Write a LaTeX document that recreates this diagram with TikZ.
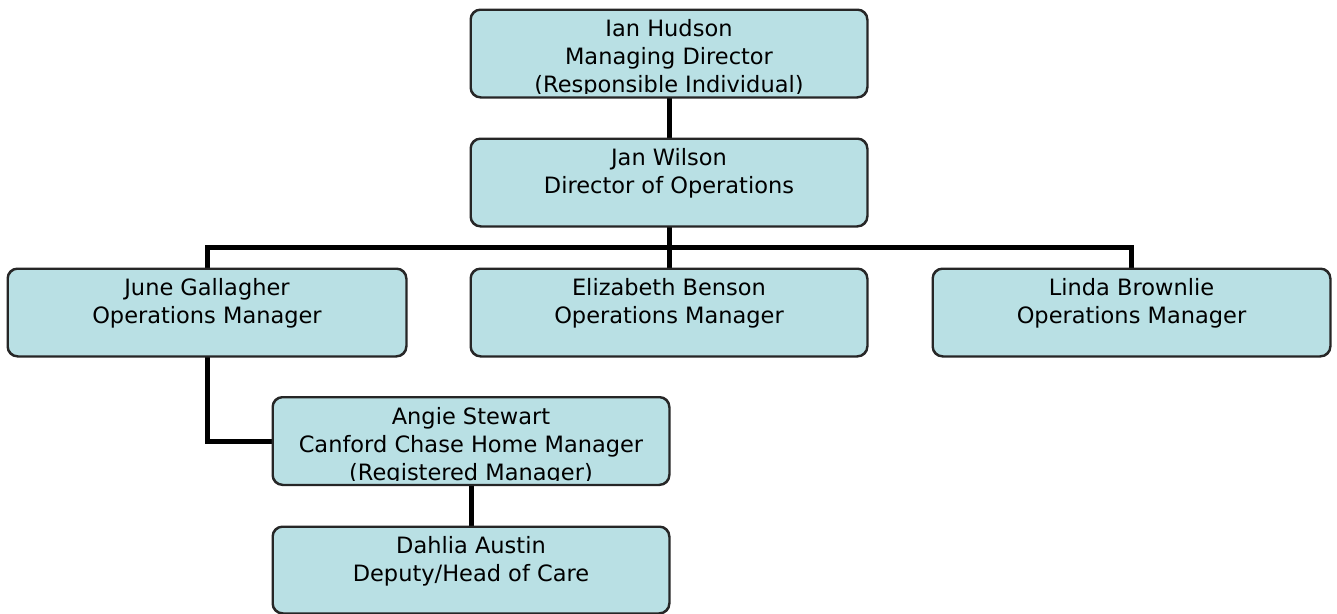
\documentclass[tikz,border=0pt]{standalone}
\usepackage{fontspec}
\setmainfont{DejaVu Sans}
\usetikzlibrary{calc}
\definecolor{boxc}{RGB}{185,224,228}
\tikzset{
  orgbox/.style={draw=black!85, fill=boxc, rounded corners=10pt, line width=1.5pt,
    inner sep=0pt, minimum width=#1, minimum height=87pt},
  orgbox/.default=396pt,
  lbl/.style={anchor=base, inner sep=0pt, font=\fontsize{22.5}{26}\selectfont},
  conn/.style={line width=5pt, black}
}
\newcommand\orgline[3]{\node[lbl] at ($(#1.north)+(0,{27.5+28*#2})$) {#3};}
\newcommand\orgclip[1]{\clip[rounded corners=9pt] ($(#1.south west)+(1,-4.5)$) rectangle ($(#1.north east)+(-1,1)$);}
\begin{document}
\begin{tikzpicture}[x=1pt,y=-1pt]
\useasboundingbox (0,0) rectangle (1337,613);
% boxes
\node[orgbox] (ian) at (669,53.5) {};
\node[orgbox] (jan) at (669,182.5) {};
\node[orgbox=398pt] (june) at (207,312.5) {};
\node[orgbox] (eliz) at (669,312.5) {};
\node[orgbox=397pt] (linda) at (1131.5,312.5) {};
\node[orgbox] (angie) at (471,441) {};
\node[orgbox, minimum height=86pt] (dahlia) at (471,570) {};
\coordinate (bar) at (669,247);
% connectors
\draw[conn] (ian.south) -- (jan.north);
\draw[conn] (jan.south) -- (eliz.north);
\draw[conn] (june.north) -- (june.north |- bar) -- (linda.north |- bar) -- (linda.north);
\draw[conn] (june.south) |- (angie.west);
\draw[conn] (angie.south) -- (dahlia.north);
% redraw box borders over connector ends
\foreach \b in {ian,jan,june,eliz,linda,angie,dahlia}{
  \draw[black!85, line width=1.5pt, rounded corners=10pt] (\b.south west) rectangle (\b.north east);
}
% texts
\begin{scope}\orgclip{ian}
\orgline{ian}{0}{Ian Hudson}
\orgline{ian}{1}{Managing Director}
\orgline{ian}{2}{(Responsible Individual)}
\end{scope}
\begin{scope}\orgclip{jan}
\orgline{jan}{0}{Jan Wilson}
\orgline{jan}{1}{Director of Operations}
\end{scope}
\begin{scope}\orgclip{june}
\orgline{june}{0}{June Gallagher}
\orgline{june}{1}{Operations Manager}
\end{scope}
\begin{scope}\orgclip{eliz}
\orgline{eliz}{0}{Elizabeth Benson}
\orgline{eliz}{1}{Operations Manager}
\end{scope}
\begin{scope}\orgclip{linda}
\orgline{linda}{0}{Linda Brownlie}
\orgline{linda}{1}{Operations Manager}
\end{scope}
\begin{scope}\orgclip{angie}
\orgline{angie}{0}{Angie Stewart}
\orgline{angie}{1}{Canford Chase Home Manager}
\orgline{angie}{2}{(Registered Manager)}
\end{scope}
\begin{scope}\orgclip{dahlia}
\orgline{dahlia}{0}{Dahlia Austin}
\orgline{dahlia}{1}{Deputy/Head of Care}
\end{scope}
\end{tikzpicture}
\end{document}
